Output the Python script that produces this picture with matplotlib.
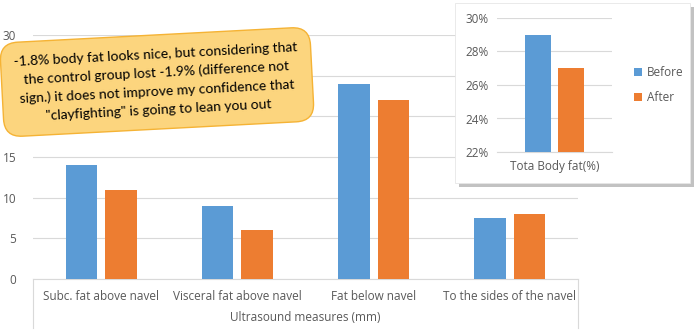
import matplotlib.pyplot as plt
from matplotlib.patches import Rectangle
import numpy as np

# data
categories = ["Subc. fat above navel", "Visceral fat above navel",
              "Fat below navel", "To the sides of the navel"]
before = [14, 9, 24, 7.5]
after = [11, 6, 22, 8]
inset_category = "Tota Body fat(%)"
inset_before = [0.29]
inset_after = [0.27]
series_names = ["Before", "After"]
note = ('-1.8% body fat looks nice, but considering that\n'
        'the control group lost -1.9% (difference not\n'
        'sign.) it does not improve my confidence that\n'
        '"clayfighting" is going to lean you out')

blue = "#5B9BD5"
orange = "#ED7D31"
grid_c = "#D9D9D9"
txt_c = "#595959"

plt.rcParams['font.family'] = ['Open Sans', 'DejaVu Sans']

W, H = 697, 334
fig = plt.figure(figsize=(W / 100, H / 100), dpi=100)


def fx(px):
    return px / W


def fy(py):
    return 1 - py / H


# main chart
ax = fig.add_axes([fx(33), fy(279), fx(578) - fx(33), fy(35) - fy(279)])
x = np.arange(len(categories))
bw = 0.23
ax.bar(x - 0.145, before, bw, color=blue, zorder=3)
ax.bar(x + 0.145, after, bw, color=orange, zorder=3)
ax.set_xlim(-0.5, len(categories) - 0.5)
ax.set_ylim(0, 30)
ax.set_yticks(range(0, 31, 5))
ax.yaxis.grid(True, color=grid_c, linewidth=0.8, zorder=0)
ax.set_xticks(x)
ax.set_xticklabels(categories)
ax.tick_params(axis='both', length=0, colors=txt_c, labelsize=8.5)
ax.tick_params(axis='y', pad=12)
ax.tick_params(axis='x', pad=8)
for s in ['top', 'right', 'left']:
    ax.spines[s].set_visible(False)
ax.spines['bottom'].set_color(grid_c)
ax.set_xlabel("Ultrasound measures (mm)", color=txt_c, fontsize=8.5, labelpad=6)

# category box lines below the axis
for px in (33, 578):
    fig.add_artist(plt.Line2D([fx(px), fx(px)], [fy(279), fy(328)],
                              color=grid_c, linewidth=0.8))

# inset panel with shadow
fig.add_artist(Rectangle((fx(459), fy(187)), fx(690) - fx(455), fy(3) - fy(183),
                         transform=fig.transFigure, facecolor="#9a9a9a",
                         edgecolor='none', alpha=0.6, zorder=4))
fig.add_artist(Rectangle((fx(455), fy(183)), fx(690) - fx(455), fy(3) - fy(183),
                         transform=fig.transFigure, facecolor="white",
                         edgecolor="#e6e6e6", linewidth=0.6, zorder=5))

ins = fig.add_axes([fx(497), fy(152), fx(612) - fx(497), fy(18) - fy(152)])
ins.set_zorder(6)
ins.patch.set_alpha(0)
ins.bar([-0.145], inset_before, 0.23, color=blue, zorder=3, label=series_names[0])
ins.bar([0.145], inset_after, 0.23, color=orange, zorder=3, label=series_names[1])
ins.set_xlim(-0.5, 0.5)
ins.set_ylim(0.22, 0.30)
ins.set_yticks([0.22, 0.24, 0.26, 0.28, 0.30])
ins.set_yticklabels(["22%", "24%", "26%", "28%", "30%"])
ins.set_xticks([0])
ins.set_xticklabels([inset_category])
ins.yaxis.grid(True, color=grid_c, linewidth=0.8, zorder=0)
ins.tick_params(axis='both', length=0, colors=txt_c, labelsize=8.5)
ins.tick_params(axis='y', pad=6)
ins.tick_params(axis='x', pad=6)
for s in ['top', 'right', 'left']:
    ins.spines[s].set_visible(False)
ins.spines['bottom'].set_color(grid_c)
ins.legend(loc='center left', bbox_to_anchor=(1.1, 0.5), frameon=False,
           fontsize=8.5, handlelength=0.7, handleheight=0.7,
           handletextpad=0.4, labelspacing=1.0, labelcolor=txt_c)

# callout note
fig.text(fx(157), fy(82), note, ha='center', va='center', rotation=3,
         fontsize=10, color='black', family=['Lato', 'DejaVu Sans'],
         linespacing=1.6, zorder=10,
         bbox=dict(boxstyle='round,pad=0.95,rounding_size=1.3',
                   facecolor="#FCD57E", edgecolor="#F5B335", linewidth=1.0))

fig.savefig("out.png", dpi=100)
